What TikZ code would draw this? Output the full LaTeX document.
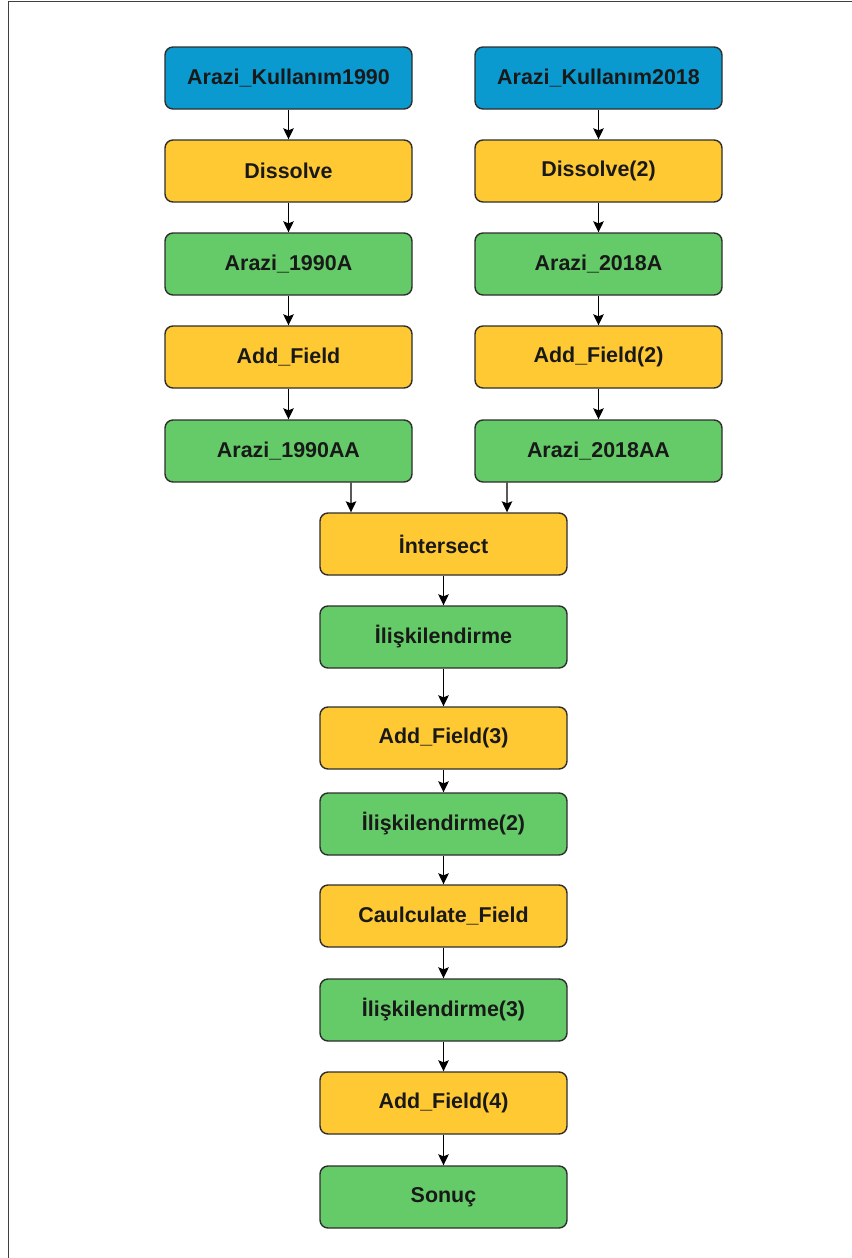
\documentclass[tikz,border=0pt]{standalone}
\usepackage{fontspec}
\setmainfont{Liberation Sans}
\usetikzlibrary{arrows.meta,positioning,calc}
\definecolor{akBlue}{HTML}{0A9AD0}
\definecolor{akYellow}{HTML}{FFC933}
\definecolor{akGreen}{HTML}{64CB68}
\definecolor{akLine}{HTML}{2E2E2E}
\tikzset{
  box/.style={draw=akLine,line width=0.8pt,rounded corners=0.16cm,
    minimum width=4.94cm,minimum height=1.24cm,text=black!90},
  datain/.style={box,fill=akBlue},
  tool/.style={box,fill=akYellow},
  data/.style={box,fill=akGreen},
  arr/.style={->,line width=0.75pt,black}
}

\begin{document}
\begin{tikzpicture}[>={Stealth[length=2.2mm,width=2.1mm,inset=0.4mm]},
    font=\bfseries\fontsize{12.2}{14}\selectfont]
  \useasboundingbox (0,0) rectangle (17.02,-25.16);
  \draw[line width=1.1pt,black!75] (0.17,-25.3) |- (17.2,-0.03);

  % two input branches
  \foreach \x/\side/\year in {5.77/l/1990,11.97/r/2018}
  {
    \node[datain] (in\side) at (\x,-1.56) {Arazi\_Kullanım\year};
    \node[data] (a\side) at (\x,-5.28) {Arazi\_\year A};
    \node[data] (aa\side) at (\x,-9.02) {Arazi\_\year AA};
  }
  \node[tool] (dl) at (5.77,-3.42) {Dissolve};
  \node[tool] (dr) at (11.97,-3.42) {Dissolve(2)};
  \node[tool] (fl) at (5.77,-7.14) {Add\_Field};
  \node[tool] (fr) at (11.97,-7.14) {Add\_Field(2)};
  \foreach \side in {l,r}
  {
    \draw[arr] (in\side) -- (d\side);
    \draw[arr] (d\side) -- (a\side);
    \draw[arr] (a\side) -- (f\side);
    \draw[arr] (f\side) -- (aa\side);
  }

  % main chain
  \foreach \y/\name/\style/\label in {
    -10.88/inter/tool/İntersect,
    -12.74/rel/data/İlişkilendirme,
    -14.76/fthree/tool/Add\_Field(3),
    -16.48/reltwo/data/İlişkilendirme(2),
    -18.32/calcf/tool/Caulculate\_Field,
    -20.20/relthree/data/İlişkilendirme(3),
    -22.06/ffour/tool/Add\_Field(4),
    -23.94/result/data/Sonuç}
  {
    \node[\style] (\name) at (8.87,\y) {\label};
  }
  \draw[arr] ($(aal.south)+(1.25,0)$) -- ($(inter.north)+(-1.85,0)$);
  \draw[arr] ($(aar.south)+(-1.83,0)$) -- ($(inter.north)+(1.27,0)$);
  \draw[arr] (inter) -- (rel);
  \draw[arr] (rel) -- (fthree);
  \draw[arr] (fthree) -- (reltwo);
  \draw[arr] (reltwo) -- (calcf);
  \draw[arr] (calcf) -- (relthree);
  \draw[arr] (relthree) -- (ffour);
  \draw[arr] (ffour) -- (result);
\end{tikzpicture}
\end{document}
